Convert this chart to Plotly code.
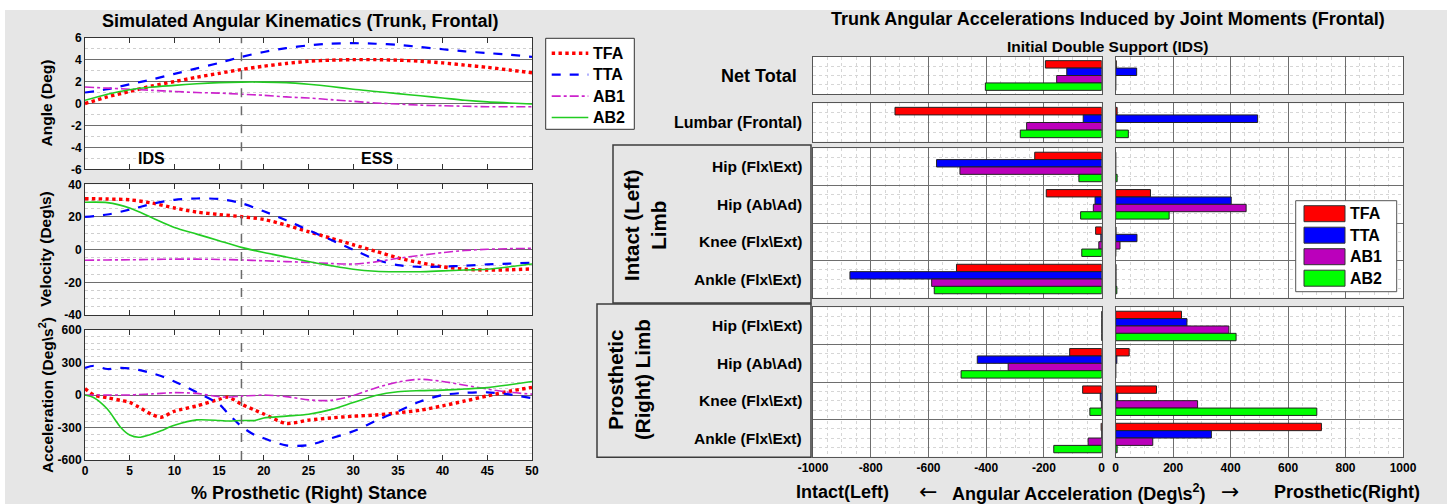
import plotly.graph_objects as go

W, H = 1447, 504

series = ["TFA", "TTA", "AB1", "AB2"]

# ---------------- trunk kinematics (frontal) ----------------
stance_pct = [0, 2.5, 5, 7.5, 10, 12.5, 15, 17.5, 20, 22.5, 25, 27.5, 30,
              32.5, 35, 37.5, 40, 42.5, 45, 47.5, 50]

angle_tfa = [0.0, 0.6, 1.1, 1.6, 2.0, 2.4, 2.75, 3.1, 3.4, 3.65, 3.85, 3.95, 4.0,
             4.0, 3.95, 3.85, 3.7, 3.5, 3.3, 3.05, 2.8]
angle_tta = [1.0, 1.3, 1.75, 2.2, 2.7, 3.2, 3.7, 4.25, 4.7, 5.05, 5.3, 5.45, 5.5,
             5.45, 5.35, 5.15, 4.95, 4.75, 4.6, 4.45, 4.25]
angle_ab1 = [1.5, 1.4, 1.3, 1.2, 1.1, 1.0, 0.95, 0.85, 0.75, 0.6, 0.5, 0.35, 0.2,
             0.05, -0.05, -0.15, -0.2, -0.25, -0.3, -0.3, -0.3]
angle_ab2 = [0.3, 0.85, 1.25, 1.5, 1.65, 1.8, 1.9, 1.95, 1.95, 1.9, 1.75, 1.55, 1.3,
             1.1, 0.9, 0.7, 0.5, 0.3, 0.15, 0.05, -0.05]

vel_tfa = [31.2, 31, 30.5, 28.5, 25.5, 23, 21.5, 20.2, 18.5, 15, 11, 7, 3,
           -1, -5, -8, -10.5, -12, -12.5, -12.3, -11.8]
vel_tta = [20, 21.5, 24.5, 28, 30.5, 31.3, 31, 28.4, 23.5, 18, 12, 6, 0,
           -6, -9.5, -10.5, -10.4, -9.8, -9, -8.5, -8]
vel_ab1 = [-6.5, -6.3, -6.2, -6, -5.8, -5.8, -6, -6.3, -6.8, -7.3, -7.8, -8.5, -8.8,
           -7.5, -5.3, -3.5, -1.8, -0.5, 0.2, 0.6, 0.8]
vel_ab2 = [29, 28.8, 25.5, 19.5, 13.5, 9.5, 5.5, 1.4, -1.8, -4.5, -7.3, -9.8, -12,
           -13.2, -13.5, -13.5, -13, -12.5, -12, -10.5, -8.8]

acc_pct = [0, 1, 2.5, 4, 5, 6, 7.5, 8.5, 10, 12.5, 15, 16, 17.5, 19, 20, 22.5,
           25, 27.5, 30, 32.5, 35, 37.5, 40, 42.5, 45, 47.5, 50]
acc_tfa = [60, 0, -25, -50, -68, -110, -180, -205, -150, -100, -40, -20, -85, -140,
           -175, -262, -232, -212, -196, -185, -165, -140, -100, -55, -8, 35, 70]
acc_tta = [250, 270, 240, 250, 245, 232, 200, 175, 125, 25, -85, -170, -290, -370,
           -400, -465, -462, -400, -335, -240, -150, -60, 0, 20, 25, 5, -30]
acc_ab1 = [0, 0, 0, 0, 0, 5, 10, 15, 22, 15, -15, -20, -10, -5, 0, -15, -45, -50,
           -5, 65, 120, 145, 125, 90, 55, 25, 8]
acc_ab2 = [0, -25, -130, -300, -370, -390, -360, -330, -280, -230, -235, -240, -235,
           -235, -212, -195, -178, -135, -70, -5, 30, 40, 45, 55, 68, 95, 125]

ids_end_pct = 17.5          # end of initial double support
phase_labels = ["IDS", "ESS"]
phase_label_pct = [7.4, 32.7]

# ---------------- induced trunk accelerations (IDS) ----------------
row_names = ["Net Total", "Lumbar (Frontal)",
             "Hip (Flx\\Ext)", "Hip (Ab\\Ad)", "Knee (Flx\\Ext)", "Ankle (Flx\\Ext)",
             "Hip (Flx\\Ext)", "Hip (Ab\\Ad)", "Knee (Flx\\Ext)", "Ankle (Flx\\Ext)"]
group_names = ["Net Total", "Lumbar (Frontal)", "Intact (Left)<br>Limb",
               "Prosthetic<br>(Right) Limb"]
group_rows = [(0, 1), (1, 2), (2, 6), (6, 10)]

# negative (intact-side) and positive (prosthetic-side) contributions, deg/s^2
neg_tfa = [-195, -716, -232, -192, -21, -503, 0, -111, -66, -2]
neg_tta = [-121, -64, -572, -23, -3, -872, 0, -431, -5, 0]
neg_ab1 = [-156, -260, -491, -29, -10, -589, 0, -324, -1, -47]
neg_ab2 = [-403, -282, -79, -73, -69, -580, 0, -487, -41, -166]
pos_tfa = [2, 5, 0, 121, 1, 1, 229, 47, 142, 716]
pos_tta = [73, 494, 0, 402, 74, 1, 248, 4, 7, 333]
pos_ab1 = [0, 0, 0, 454, 15, 1, 394, 0, 285, 129]
pos_ab2 = [0, 44, 5, 186, 0, 4, 419, 0, 700, 5]

# ---------------- styling ----------------
FONT = "Liberation Sans, Arial, Helvetica, sans-serif"
ARROW_FONT = "DejaVu Sans, sans-serif"
BG = "#e6e6e6"
line_color = {"TFA": "#ff0000", "TTA": "#0000ff", "AB1": "#cc22cc", "AB2": "#22cc22"}
line_dash = {"TFA": "dot", "TTA": "dash", "AB1": "dashdot", "AB2": "solid"}
line_w = {"TFA": 3.4, "TTA": 2.2, "AB1": 1.6, "AB2": 1.6}
bar_color = {"TFA": "#ff0000", "TTA": "#0000ff", "AB1": "#bb00bb", "AB2": "#00ff00"}


def fx(px):
    return px / W


def fy(py):
    return 1 - py / H


def bold(size, color="#000000"):
    return dict(family=FONT, size=size, color=color, weight="bold")


def label(text, x, y, size, xref="paper", yref="paper", xanchor="center",
          textangle=0, font=None):
    return dict(text=text, x=x, y=y, xref=xref, yref=yref, xanchor=xanchor,
                yanchor="middle", textangle=textangle, showarrow=False,
                font=font or bold(size))


def ticks(lo, hi, step):
    vals = list(range(lo, hi + 1, step))
    return vals, [str(v) for v in vals]       # plain hyphen-minus labels


fig = go.Figure()
layout = {}
annotations = []
shapes = []

# ---- left: three stacked kinematic panels ----
kin_panels = [
    (angle_tfa, angle_tta, angle_ab1, angle_ab2, stance_pct, (37.7, 169.3), [-6, 6], 2, 1,
     "Angle (Deg)"),
    (vel_tfa, vel_tta, vel_ab1, vel_ab2, stance_pct, (184.3, 315.0), [-40, 40], 20, 5,
     "Velocity (Deg\\s)"),
    (acc_tfa, acc_tta, acc_ab1, acc_ab2, acc_pct, (330.0, 460.0), [-600, 600], 300, 60,
     "Acceleration (Deg\\s<sup>2</sup>)"),
]

for i, (a, b, c, d, xs, (top, bot), yr, dt, mdt, ytitle) in enumerate(kin_panels):
    n = i + 1
    sfx = "" if n == 1 else str(n)
    for name, ys in zip(series, (a, b, c, d)):
        fig.add_trace(go.Scatter(
            x=xs, y=ys, mode="lines", name=name,
            line=dict(color=line_color[name], dash=line_dash[name], width=line_w[name],
                      shape="spline", smoothing=0.8),
            xaxis="x" + sfx, yaxis="y" + sfx, showlegend=False))
    yv, yt = ticks(yr[0], yr[1], dt)
    layout["xaxis" + sfx] = dict(
        domain=[fx(85), fx(532)], anchor="y" + sfx, range=[0, 50], automargin=False,
        tickvals=list(range(0, 51, 5)), ticks="inside", ticklen=5, tickcolor="#333",
        showline=True, linecolor="#333", mirror="ticks", showgrid=False, zeroline=False,
        showticklabels=(n == 3), tickfont=bold(12))
    layout["yaxis" + sfx] = dict(
        domain=[fy(bot), fy(top)], anchor="x" + sfx, range=yr, automargin=False,
        tickmode="array", tickvals=yv, ticktext=yt, ticks="",
        showline=True, linecolor="#333", mirror=True, zeroline=False,
        showgrid=True, gridcolor="#6e6e6e", gridwidth=1,
        minor=dict(tickmode="linear", tick0=yr[0], dtick=mdt, showgrid=True,
                   gridcolor="#cfcfcf", griddash="dot", gridwidth=1),
        tickfont=bold(12))
    shapes.append(dict(type="line", xref="x" + sfx, yref="y" + sfx + " domain",
                       x0=ids_end_pct, x1=ids_end_pct, y0=0, y1=1,
                       line=dict(color="#6a6a6a", width=1.5, dash="dash")))
    annotations.append(label(ytitle, fx(46), fy((top + bot) / 2), 15.5, textangle=-90))

for lab, p in zip(phase_labels, phase_label_pct):
    annotations.append(label(lab, p, -5, 16, xref="x", yref="y"))

annotations.append(label("Simulated Angular Kinematics (Trunk, Frontal)",
                         fx(300), fy(21.5), 18))
annotations.append(label("% Prosthetic (Right) Stance", fx(309), fy(493), 18))

# line-style key for the kinematic panels
shapes.append(dict(type="rect", xref="paper", yref="paper", layer="above",
                   x0=fx(545.7), x1=fx(634.3), y0=fy(129.3), y1=fy(38.3),
                   fillcolor="#ffffff", line=dict(color="#333", width=1)))
for j, name in enumerate(series):
    cy = 53.3 + j * 21.4
    shapes.append(dict(type="line", xref="paper", yref="paper", layer="above",
                       x0=fx(551.7), x1=fx(588.3), y0=fy(cy), y1=fy(cy),
                       line=dict(color=line_color[name], dash=line_dash[name],
                                 width=line_w[name])))
    annotations.append(label(name, fx(591), fy(cy), 16, xanchor="left"))

# ---- right: induced accelerations, split intact / prosthetic panels ----
group_px = [(56.7, 94.3), (103.3, 141.7), (148.3, 297.7), (307.3, 456.7)]
panel_px = [(813.0, 1101.7), (1115.7, 1403.0)]
neg_vals = {"TFA": neg_tfa, "TTA": neg_tta, "AB1": neg_ab1, "AB2": neg_ab2}
pos_vals = {"TFA": pos_tfa, "TTA": pos_tta, "AB1": pos_ab1, "AB2": pos_ab2}

for g, ((r0, r1), (top, bot)) in enumerate(zip(group_rows, group_px)):
    nrows = r1 - r0
    for p, (left, right) in enumerate(panel_px):
        k = 4 + 2 * g + p
        vals = neg_vals if p == 0 else pos_vals
        for name in series:
            fig.add_trace(go.Bar(
                y=list(range(nrows)), x=vals[name][r0:r1], orientation="h",
                marker=dict(color=bar_color[name], line=dict(color="#222", width=1)),
                xaxis=f"x{k}", yaxis=f"y{k}", showlegend=False, name=name))
        xr = [-1000, 0] if p == 0 else [0, 1000]
        xv, xt = ticks(xr[0], xr[1], 200)
        layout[f"xaxis{k}"] = dict(
            domain=[fx(left), fx(right)], anchor=f"y{k}", range=xr, automargin=False,
            tickmode="array", tickvals=xv, ticktext=xt, ticks="",
            showticklabels=(g == 3), tickfont=bold(12),
            showline=True, linecolor="#555", mirror=True, zeroline=False,
            showgrid=True, gridcolor="#6e6e6e", gridwidth=1,
            minor=dict(tickmode="linear", tick0=0, dtick=50, showgrid=True,
                       gridcolor="#d6d6d6", griddash="dot", gridwidth=1))
        layout[f"yaxis{k}"] = dict(
            domain=[fy(bot), fy(top)], anchor=f"x{k}", range=[nrows - 0.5, -0.5],
            automargin=False,
            tickmode="array", tickvals=[j + 0.5 for j in range(nrows - 1)],
            showticklabels=False, ticks="",
            showline=True, linecolor="#555", mirror=True, zeroline=False,
            showgrid=True, gridcolor="#6e6e6e", gridwidth=1,
            minor=dict(tickmode="linear", tick0=-0.5, dtick=0.25, showgrid=True,
                       gridcolor="#d6d6d6", griddash="dot", gridwidth=1))
    # row labels beside the intact-side panel
    kneg = 4 + 2 * g
    for j in range(nrows):
        if g == 0:
            size, xr_px = 18, 799
        elif g == 1:
            size, xr_px = 16, 804
        else:
            size, xr_px = 15.5, 804
        annotations.append(label(row_names[r0 + j], fx(xr_px), j, size,
                                 yref=f"y{kneg}", xanchor="right"))

# framed limb group labels
limb_boxes = [(613, 145, 811, 303, 645, 225), (597, 304, 811, 457.3, 629, 380)]
for (x0, y0, x1, y1, cx, cy), name in zip(limb_boxes, group_names[2:]):
    shapes.append(dict(type="rect", xref="paper", yref="paper", layer="below",
                       x0=fx(x0), x1=fx(x1), y0=fy(y1), y1=fy(y0),
                       fillcolor=BG, line=dict(color="#3c3c3c", width=1.5)))
    annotations.append(label(name, fx(cx), fy(cy), 20.5, textangle=-90))

annotations.append(label("Trunk Angular Accelerations Induced by Joint Moments (Frontal)",
                         fx(1108), fy(19), 18))
annotations.append(label("Initial Double Support (IDS)", fx(1108), fy(46), 15.5))

for txt, cx in [("Intact(Left)", 843),
                ("Angular Acceleration (Deg\\s<sup>2</sup>)", 1078),
                ("Prosthetic(Right)", 1347)]:
    annotations.append(label(txt, fx(cx), fy(492), 18))
for txt, cx in [("\u2190", 928), ("\u2192", 1230)]:
    annotations.append(label(txt, fx(cx), fy(491), 22,
                             font=dict(family=ARROW_FONT, size=22, color="#000")))

# bar colour key
shapes.append(dict(type="rect", xref="paper", yref="paper", layer="above",
                   x0=fx(1295.7), x1=fx(1396.7), y0=fy(291.7), y1=fy(200.7),
                   fillcolor="#ffffff", line=dict(color="#555", width=1)))
for j, name in enumerate(series):
    cy = 213.7 + j * 21.5
    shapes.append(dict(type="rect", xref="paper", yref="paper", layer="above",
                       x0=fx(1304), x1=fx(1345), y0=fy(cy + 8), y1=fy(cy - 8),
                       fillcolor=bar_color[name], line=dict(color="#333", width=1)))
    annotations.append(label(name, fx(1348), fy(cy), 16, xanchor="left"))

# white strip along the top / left edge of the canvas
shapes.append(dict(type="rect", xref="paper", yref="paper", layer="below",
                   x0=0, x1=1, y0=fy(10), y1=1, fillcolor="#ffffff", line=dict(width=0)))
shapes.append(dict(type="rect", xref="paper", yref="paper", layer="below",
                   x0=0, x1=fx(5), y0=0, y1=1, fillcolor="#ffffff", line=dict(width=0)))

fig.update_layout(
    width=W, height=H, autosize=False,
    margin=dict(l=0, r=0, t=0, b=0, pad=0, autoexpand=False),
    paper_bgcolor=BG, plot_bgcolor="#ffffff",
    font=dict(family=FONT, color="#000"),
    barmode="group", bargap=0.21, bargroupgap=0,
    showlegend=False,
    annotations=annotations, shapes=shapes,
    **layout)

fig.write_html("out.html")
